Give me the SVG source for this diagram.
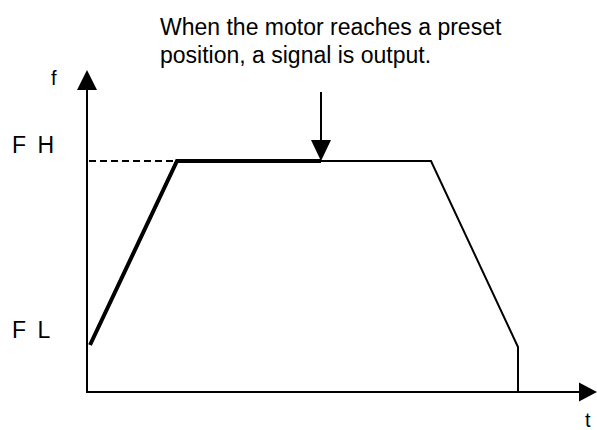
<svg xmlns="http://www.w3.org/2000/svg" width="597" height="430" viewBox="0 0 597 430">
<style>
text{font-family:"Liberation Sans",Arial,sans-serif;fill:#000}
.lbl{font-size:23px}
.ax{font-size:20px}
.thin{stroke:#000;stroke-width:2;fill:none}
.thick{stroke:#000;stroke-width:4;fill:none;stroke-linejoin:miter}
.dash{stroke:#000;stroke-width:2;fill:none;stroke-dasharray:7,4}
</style>
<rect width="597" height="430" fill="#fff"/>
<g id="caption">
<text class="lbl" x="160" y="35">When the motor reaches a preset</text>
<text class="lbl" x="160" y="63">position, a signal is output.</text>
</g>
<g id="axes">
<line class="thin" x1="87" y1="392" x2="87" y2="86"/>
<polygon points="87,70 77,90 97,90" fill="#000"/>
<line class="thin" x1="86" y1="392" x2="581" y2="392"/>
<polygon points="597,392 579,382.5 579,401.5" fill="#000"/>
<text class="ax" x="51" y="85">f</text>
<text class="ax" x="585" y="427">t</text>
<text class="lbl" x="12" y="153" word-spacing="5">F H</text>
<text class="lbl" x="12" y="338" word-spacing="5">F L</text>
</g>
<g id="connectors">
<line class="dash" x1="89" y1="161" x2="177" y2="161"/>
<polyline class="thin" points="321,161 431,161 518,347 518,392"/>
<polyline class="thick" points="90,345 177,161 321,161"/>
<line class="thin" x1="321" y1="92" x2="321" y2="142"/>
<polygon points="321,161 311,140 331,140" fill="#000"/>
</g>
</svg>
